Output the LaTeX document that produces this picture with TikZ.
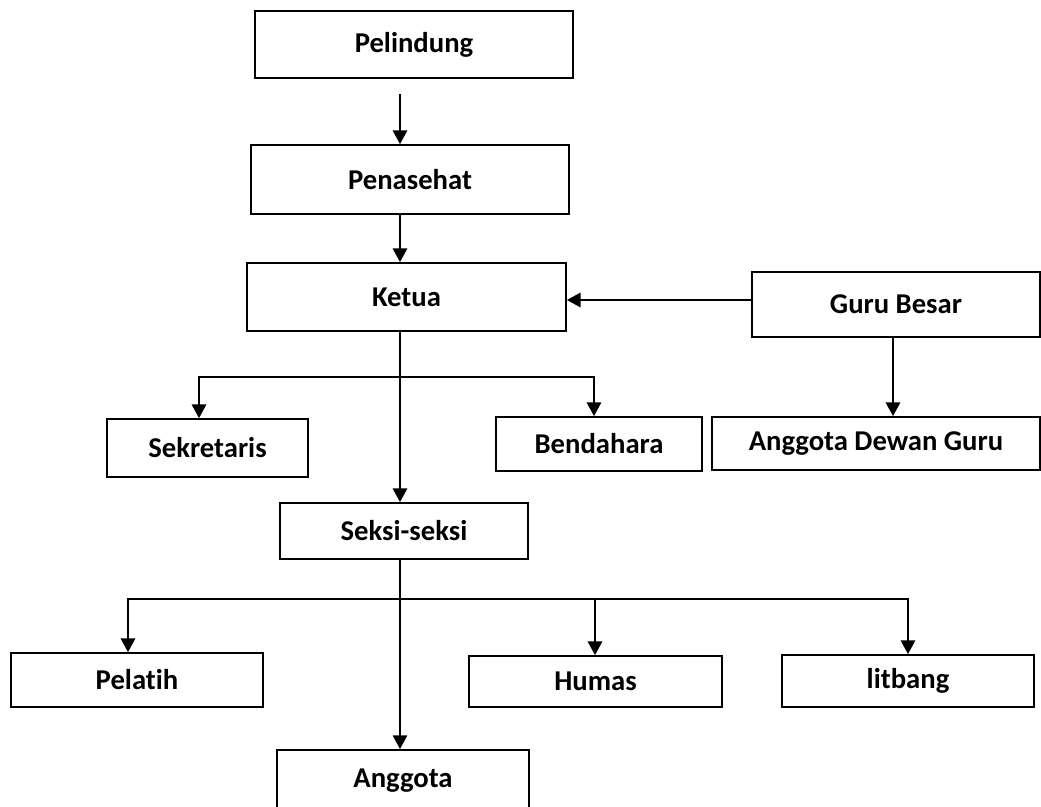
\documentclass[tikz,border=0pt]{standalone}
\usepackage{fontspec}
\setmainfont{Carlito}[Ligatures=NoCommon]
\usetikzlibrary{arrows.meta}

\begin{document}
\begin{tikzpicture}[
  kotak/.style={draw, line width=1.3pt, inner sep=0pt, font=\bfseries\fontsize{20.4}{24}\selectfont},
  panah/.style={line width=1.1pt, -{Triangle[width=0.36cm,length=0.34cm]}},
  cabang/.style={line width=1.1pt, {Triangle[width=0.36cm,length=0.34cm]}-{Triangle[width=0.36cm,length=0.34cm]}}
]
\useasboundingbox (0,0) rectangle (26.025,-20.175);
\clip (0,0) rectangle (26.025,-20.175);

\node[kotak, minimum width=7.95cm, minimum height=1.675cm] (pelindung) at (10.35,-1.1125) {Pelindung};
\node[kotak, minimum width=7.95cm, minimum height=1.725cm] (penasehat) at (10.25,-4.4875) {Penasehat};
\node[kotak, minimum width=7.975cm, minimum height=1.7cm] (ketua) at (10.1625,-7.425) {Ketua};
\node[kotak, minimum width=7.2cm, minimum height=1.625cm] (gurubesar) at (22.4,-7.6125) {Guru Besar};
\node[kotak, minimum width=5.025cm, minimum height=1.45cm] (sekretaris) at (5.1875,-11.2) {Sekretaris};
\node[kotak, minimum width=5.15cm, minimum height=1.35cm] (bendahara) at (14.975,-11.1) {Bendahara};
\node[kotak, minimum width=8.2cm, minimum height=1.325cm] (dewanguru) at (21.9,-11.0875) {Anggota Dewan Guru};
\node[kotak, minimum width=6.2cm, minimum height=1.4cm] (seksi) at (10.1,-13.275) {Seksi-seksi};
\node[kotak, minimum width=6.3cm, minimum height=1.35cm] (pelatih) at (3.425,-17.0) {Pelatih};
\node[kotak, minimum width=6.325cm, minimum height=1.275cm] (humas) at (14.8875,-17.0375) {Humas};
\node[kotak, minimum width=6.3cm, minimum height=1.3cm] (litbang) at (22.7,-17.025) {litbang};
\node[kotak, minimum width=6.3cm, anchor=north, text height=0.95cm, text depth=1.5cm] (anggota) at (10.075,-18.725) {Anggota};

\coordinate (poros) at (10,0);
\coordinate (jalurGuru) at (0,-7.5);
\coordinate (jalurDewan) at (22.325,0);
\coordinate (cabangA) at (0,-9.425);
\coordinate (kiriA) at (4.975,0);
\coordinate (kananA) at (14.85,0);
\coordinate (cabangB) at (0,-14.975);
\coordinate (kiriB) at (3.2,0);
\coordinate (tengahB) at (14.875,0);
\coordinate (kananB) at (22.7,0);

\draw[panah, shorten <=0.375cm] (pelindung.south -| poros) -- (penasehat.north -| poros);
\draw[panah] (penasehat.south -| poros) -- (ketua.north -| poros);
\draw[panah] (gurubesar.west |- jalurGuru) -- (ketua.east |- jalurGuru);
\draw[panah] (gurubesar.south -| jalurDewan) -- (dewanguru.north -| jalurDewan);
\draw[panah] (ketua.south -| poros) -- (seksi.north -| poros);
\draw[cabang] (sekretaris.north -| kiriA) -- (kiriA |- cabangA) -- (kananA |- cabangA) -- (bendahara.north -| kananA);
\draw[panah] (seksi.south -| poros) -- (anggota.north -| poros);
\draw[cabang] (pelatih.north -| kiriB) -- (kiriB |- cabangB) -- (kananB |- cabangB) -- (litbang.north -| kananB);
\draw[panah] (tengahB |- cabangB) -- (humas.north -| tengahB);

\end{tikzpicture}
\end{document}
